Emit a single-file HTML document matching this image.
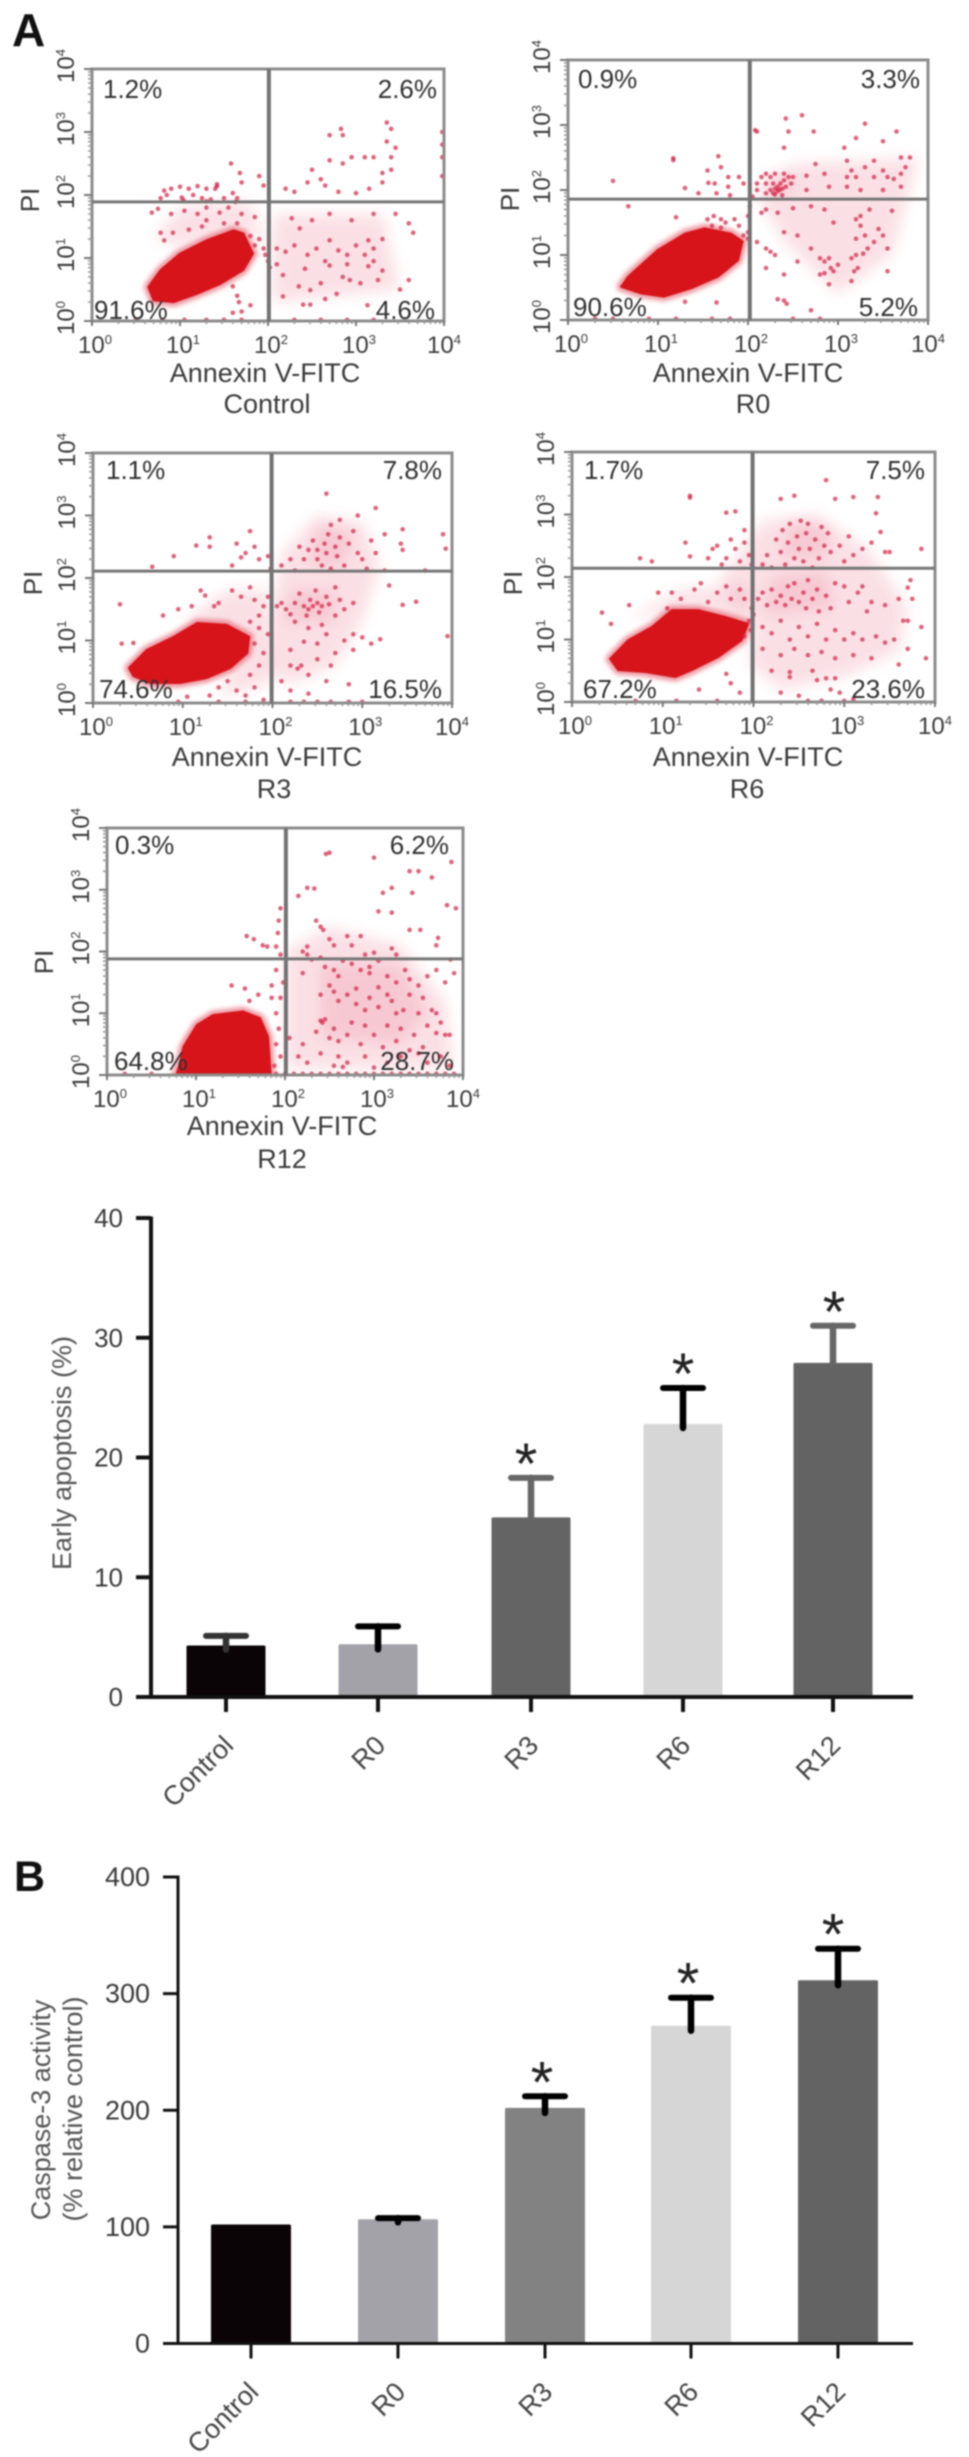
<!DOCTYPE html>
<html lang="en">
<head>
<meta charset="utf-8">
<title>Annexin V-FITC flow cytometry and caspase-3 activity</title>
<style>
html,body{margin:0;padding:0;background:#fff;}
body{width:969px;height:2457px;overflow:hidden;}
svg{display:block;font-family:"Liberation Sans",Arial,sans-serif;filter:blur(0.7px);}
</style>
</head>
<body>
<svg id="figure" xmlns="http://www.w3.org/2000/svg" width="969" height="2457" viewBox="0 0 969 2457">
<rect width="969" height="2457" fill="#fff"/>
<text x="12" y="46" font-size="46" font-weight="700" fill="#111">A</text>
<text x="14" y="1891" font-size="43" font-weight="700" fill="#111">B</text>
</svg>
<script>
// ---------- Chart values ----------
const apoptosisCategories = ['Control','R0','R3','R6','R12'];
const apoptosisValues = [4.3,4.4,15,22.8,27.9];
const apoptosisErrors = [0.8,1.5,3.3,3.0,3.1];
const apoptosisTicks = [0,10,20,30,40];
const caspaseCategories = ['Control','R0','R3','R6','R12'];
const caspaseValues = [102,106.5,202,272.5,311.5];
const caspaseErrors = [0,1,10,24,27];
const caspaseTicks = [0,100,200,300,400];
const significant = [false,false,true,true,true];

const flowNames = ['Control','R0','R3','R6','R12'];
const flowPercents = [
 ['1.2%','2.6%','91.6%','4.6%'],
 ['0.9%','3.3%','90.6%','5.2%'],
 ['1.1%','7.8%','74.6%','16.5%'],
 ['1.7%','7.5%','67.2%','23.6%'],
 ['0.3%','6.2%','64.8%','28.7%']
];
const flowGateX = [2.01,2.02,1.99,1.99,2.01];
const flowGateY = [1.89,1.86,2.11,2.14,1.88];
const logTicks = [0,1,2,3,4];

// Dense population outline, log10(FITC), log10(PI)
const denseControl = [[.64,.54],[.78,.81],[1,1.07],[1.3,1.28],[1.61,1.44],[1.72,1.39],[1.83,1.07],[1.72,.81],[1.46,.59],[1.19,.43],[.93,.3],[.7,.33]];
const denseR0 = [[.59,.51],[.67,.67],[1,1.08],[1.3,1.33],[1.52,1.41],[1.81,1.33],[1.94,1.21],[1.89,.92],[1.67,.67],[1.37,.49],[1.07,.36],[.81,.41]];
const denseR3 = [[.4,.56],[.6,.85],[.9,1.06],[1.16,1.28],[1.49,1.25],[1.74,1.06],[1.72,.8],[1.53,.56],[1.27,.4],[.97,.32],[.64,.32],[.45,.43]];
const denseR6 = [[.42,.69],[.62,.99],[.88,1.2],[1.1,1.47],[1.39,1.47],[1.69,1.36],[1.94,1.25],[1.87,.99],[1.61,.72],[1.32,.51],[1.14,.4],[.81,.48],[.51,.51]];
const denseR12 = [[.78,0],[.82,.19],[.86,.46],[1.01,.81],[1.19,.97],[1.53,1.03],[1.72,.92],[1.81,.62],[1.84,0]];

// Outlines of the diffuse event clouds, log10(FITC), log10(PI)
const cloudControl = [[[2.05,.3],[2.05,1.7],[3.3,1.7],[3.5,.5]],[[.7,1.3],[1,1.8],[1.8,1.9],[2,1.1],[1.7,1.5],[1,1.2]]];
const cloudR0 = [[[2.1,1.9],[2.5,2.4],[3.9,2.5],[3.6,1],[3,.4],[2.4,1.2]],[[2.15,1.95],[2.2,2.25],[2.5,2.25],[2.5,1.95]]];
const cloudR3 = [[[1.95,1.1],[2.1,2.4],[2.5,3],[3,2.9],[3.2,2.2],[3,1.3],[2.7,.6],[2.2,.3],[1.9,.5]],[[1,1.3],[1.5,1.8],[1.95,1.8],[1.95,.3],[1.4,.1],[1.7,1]],[[2.1,1.3],[2.2,1.8],[2.7,1.8],[2.7,1.3]],[[2.4,2.2],[2.5,2.85],[2.9,2.75],[2.8,2.2]]];
const cloudR6 = [[[1.6,1.9],[2.1,2.9],[2.7,3],[3.3,2.4],[3.7,1.5],[3.6,.8],[3,.4],[2.3,.2],[1.95,.6],[2,1.3]],[[.6,1.3],[1.2,1.8],[1.95,1.85],[1.95,1.1],[1.4,1.55]],[[2.1,1.4],[2.2,2],[2.8,2.1],[2.9,1.5]],[[2.3,2.3],[2.4,2.9],[2.85,2.8],[2.8,2.3]]];
const cloudR12 = [[[2,.1],[2,2],[2.5,2.4],[3.3,2.1],[3.8,1.2],[3.9,.1]],[[2.4,.6],[2.4,1.8],[3.3,1.8],[3.6,1],[3.3,.5]]];

// Individual events, log10(FITC), log10(PI)
const eventsControl = [[.82,2.07],[.9,2.1],[1,2.13],[1.1,2.1],[1.2,2.14],[1.3,2.1],[1.42,2.14],[1.42,2.17],[1.4,2.1],[.78,1.95],[.85,2],[1.04,1.92],[1.02,1.96],[1.15,2],[1.25,1.95],[1.3,1.9],[1.35,1.93],[1.5,1.95],[1.63,1.89],[1.65,1.95],[1.6,2.03],[1.7,2.2],[1.58,2.5],[1.68,2.35],[1.9,2.3],[1.95,2.15],[.68,1.72],[.75,1.78],[.9,1.7],[1.05,1.75],[1.2,1.7],[1.3,1.8],[1.45,1.72],[1.55,1.8],[1.7,1.7],[1.85,1.65],[.78,1.4],[.82,1.28],[.92,1.4],[1.1,1.45],[1.25,1.5],[1.3,1.6],[1.5,1.55],[1.65,1.55],[1.8,1.35],[1.9,1.3],[1.95,1.15],[1.97,1.05],[2,.95],[1.85,1.2],[1.6,.55],[1.65,.4],[1.67,.3],[1.7,.15],[1.6,.13],[1.8,.25],[2.27,1.63],[2.36,1.47],[2.7,1.28],[3.14,1.28],[3.14,.87],[2.93,.65],[2.48,.26],[2.4,.26],[2.17,.39],[2.48,.49],[2.78,.43],[2.17,.73],[2.42,.83],[2.7,.88],[2.1,1.15],[2.2,1.1],[2.3,1.2],[2.45,1.05],[2.55,1.15],[2.65,.95],[2.8,1.12],[2.9,1.05],[3,1.2],[3.1,1.05],[3.2,.95],[3.3,1.3],[3.3,.8],[3.05,.6],[2.85,.7],[2.6,.6],[2.35,.55],[2.5,1.6],[2.7,1.7],[2.95,1.6],[3.2,1.7],[3.45,1.7],[3.6,1.55],[3.65,1.4],[3.6,.65],[3.5,.5],[3.13,.25],[2.65,.35],[2.1,.9],[2.02,.85],[2.9,.9],[3.25,.65],[3.2,1.15],[2.2,2.1],[2.3,2.05],[2.45,2.2],[2.6,2.25],[2.65,2.15],[2.8,2.05],[3,2.03],[3.15,2.1],[3.3,2.2],[2.5,2.4],[2.7,2.55],[2.85,2.5],[2.95,2.6],[3.1,2.6],[3.2,2.6],[3.3,2.35],[3.4,2.6],[3.4,2.4],[3.45,2.75],[3.35,3.15],[3.4,3.05],[2.85,2.95],[2.83,3.05],[2.7,2.95],[3.35,2.85],[3.98,3],[3.98,2.8],[3.98,2.6],[3.98,2.3],[.5,.02],[.8,.02],[1.05,.02],[1.3,.02],[1.5,.02],[1.7,.02],[2.3,.02],[2.6,.02],[2.9,.02],[3.2,.02]];
const eventsR0 = [[1.17,2.49],[1.17,2.46],[.5,2.14],[.67,1.75],[1.67,2.52],[1.78,2.2],[1.78,2.05],[1.56,2.11],[1.63,2.1],[1.3,2.03],[1.45,1.95],[1.65,1.95],[1.8,1.92],[1.55,2.3],[1.7,2.35],[1.9,2.2],[1.95,2.1],[1.2,1.58],[1.55,1.55],[1.62,1.6],[1.7,1.55],[1.75,1.5],[1.85,1.55],[1.9,1.45],[1.6,1.45],[1.7,1.42],[1.95,1.3],[2,1.25],[2,1.35],[2,1.6],[2.02,1.75],[2.05,1.9],[2.1,2.1],[2.1,2],[2.15,2.2],[2.2,2.1],[2.2,1.95],[2.25,2],[2.28,2.1],[2.3,2.02],[2.33,2.05],[2.33,1.98],[2.36,2.1],[2.38,2.02],[2.4,2.15],[2.42,2.05],[2.45,2.2],[2.48,2.1],[2.5,2.2],[2.25,2.2],[2.3,2.25],[2.2,2.25],[2.4,2.25],[2.35,2],[2.3,1.93],[2.28,1.95],[2.38,1.92],[2.65,2.22],[2.85,2.25],[2.75,2.4],[3.1,2.2],[3.2,2.2],[3.3,2.35],[3.15,2.3],[3.4,2.2],[3.5,2.3],[3.55,2.2],[3.62,2.17],[3.7,2.25],[3.75,2.35],[3.7,2.5],[3.8,2.5],[3.7,2.05],[3.5,2],[3.25,2],[3.1,2.05],[2.9,2.05],[2.65,2],[2.4,2.65],[2.45,2.9],[2.73,2.9],[3.07,2.65],[3.2,2.8],[3.1,2.45],[3.3,3.02],[3.5,2.75],[3.65,2.9],[2.6,3.15],[2.42,3.1],[2.1,2.9],[2.08,2.92],[3.4,2.45],[2.15,1.65],[2.2,1.7],[2.33,1.65],[2.5,1.72],[2.7,1.75],[2.85,1.7],[2.95,1.5],[3.25,1.6],[3.35,1.7],[3.6,1.68],[3.2,1.55],[2.1,1.2],[2.2,1.1],[2.25,1.05],[2.3,1],[2.4,1.35],[2.55,1.3],[2.7,1.1],[2.8,.95],[2.85,.9],[2.9,.95],[2.92,.8],[2.95,.75],[2.85,.72],[2.8,.7],[2.9,.55],[3,.85],[3.15,.95],[3.2,1],[3.28,1.02],[3.33,1.1],[3.22,.8],[3.18,.75],[3.15,.6],[3.2,1.25],[3.3,1.3],[3.4,1.2],[3.45,1.4],[3.5,1.3],[3.25,1.45],[2.4,.7],[2.55,.9],[2.2,.8],[3.55,1.1],[3.55,.75],[2.43,.25],[2.4,.3],[2.33,.32],[2.7,.15],[1.65,.27],[1.3,.28],[.9,.02],[1.2,.02],[1.6,.02],[1.8,.02],[2.5,.02],[2.8,.02],[.3,.02],[.5,.02]];
const eventsR3 = [[.3,1.58],[.45,.96],[.32,.95],[.78,1.4],[1.15,2.52],[1.3,2.65],[.66,2.18],[1.3,2.5],[.9,2.35],[1.6,2.55],[1.75,2.75],[1.65,2.33],[1.55,2.2],[1.7,2.4],[1.8,2.5],[1.85,2.3],[1.95,2.35],[1.98,2.15],[1.2,1.8],[1.25,1.72],[1.35,1.55],[1.4,1.6],[1.55,1.8],[1.65,1.7],[1.75,1.85],[1.8,1.65],[1.85,1.4],[1.9,1.55],[1.95,1.7],[1.1,1.55],[.95,1.5],[1.75,1.3],[1.85,1.2],[1.95,1.1],[1.8,.95],[1.85,.6],[1.9,.8],[1.75,.45],[1.5,.35],[1.6,.2],[1.3,.12],[1.4,.25],[1.05,.1],[1.7,.12],[1.8,.25],[2.05,1.55],[2.1,1.6],[2.15,1.5],[2.2,1.42],[2.25,1.6],[2.3,1.75],[2.35,1.55],[2.38,1.4],[2.4,1.5],[2.42,1.65],[2.45,1.55],[2.48,1.8],[2.5,1.6],[2.52,1.45],[2.55,1.55],[2.6,1.7],[2.63,1.58],[2.7,1.85],[2.75,1.65],[2.25,1.3],[2.4,1.2],[2.55,1.25],[2.7,1.4],[2.8,1.5],[2.9,1.6],[2.1,2.2],[2.2,2.3],[2.25,2.12],[2.3,2.5],[2.35,2.3],[2.4,2.45],[2.45,2.6],[2.5,2.3],[2.5,2.45],[2.55,2.2],[2.58,2.55],[2.6,2.4],[2.62,2.7],[2.65,2.15],[2.65,2.85],[2.7,2.5],[2.72,2.35],[2.75,2.65],[2.75,2.93],[2.8,2.2],[2.85,2.55],[2.9,2.75],[2.95,2.4],[3,2.3],[3.05,2.15],[3.1,2.6],[3.25,2.7],[3.15,2.4],[3.43,2.55],[3.45,2.78],[3.45,2.45],[3.15,3.12],[2.6,3.35],[2.95,3],[3.25,2.12],[3.7,2.12],[3.9,2.7],[3.93,2.47],[3.6,1.62],[3.45,1.57],[3.3,1.88],[3.95,1.07],[2.9,1.1],[3,1.05],[3.1,.95],[3.2,1.02],[2.8,1],[2.6,1.1],[2.5,.95],[2.35,.98],[2.2,.85],[2.2,.6],[2.32,.6],[2.28,.55],[2.5,.7],[2.7,.8],[2.9,.85],[2.4,.45],[2.6,.35],[2.85,.3],[2.65,.6],[2.1,.35],[2.2,.2],[2.4,.15],[2.5,.02],[2.35,.02],[2.2,.02],[2.65,.02],[2.85,.02],[3,.02],[1.4,.02],[1.7,.02],[.95,.02],[1.9,.05]];
const eventsR6 = [[.33,1.43],[.43,1.25],[.63,1.55],[.75,2.3],[1.25,2.55],[1.3,3.3],[1.3,3.27],[1.3,2.33],[.88,2.25],[1.1,1.75],[.95,1.75],[1.05,1.5],[1.2,1.65],[1.35,1.8],[1.42,1.9],[1.5,1.6],[1.6,1.75],[1.7,1.85],[1.75,1.65],[1.85,1.8],[1.9,1.65],[1.5,2.3],[1.6,2.5],[1.7,2.3],[1.8,2.45],[1.75,2.6],[1.9,2.55],[1.95,2.35],[1.7,3.03],[1.8,3.05],[1.55,2.45],[1.65,2.2],[1.85,2.25],[1.98,2.2],[1.9,2.75],[1.98,1.5],[2,1.4],[1.95,1.3],[1.97,1.15],[1.9,1.05],[1.7,.45],[1.75,.3],[1.85,.15],[1.4,.2],[.7,.02],[1.15,.02],[1.6,.02],[2.05,1.65],[2.1,1.75],[2.15,1.55],[2.2,1.8],[2.25,1.6],[2.3,1.7],[2.35,1.55],[2.38,1.85],[2.42,1.65],[2.45,1.9],[2.5,1.6],[2.55,1.75],[2.58,1.5],[2.6,1.95],[2.65,1.65],[2.7,1.8],[2.72,1.45],[2.8,1.7],[2.85,1.5],[2.9,1.9],[3,1.85],[3.05,1.6],[3.15,1.75],[3.2,1.85],[3.25,1.45],[3.3,1.6],[3.45,1.55],[3.6,1.65],[3.65,1.3],[3.7,1.83],[3.73,1.95],[3.75,1.65],[2.1,2.2],[2.15,2.35],[2.2,2.15],[2.25,2.6],[2.3,2.4],[2.32,2.75],[2.35,2.2],[2.38,2.55],[2.4,2.85],[2.45,2.3],[2.48,2.65],[2.5,2.45],[2.52,2.9],[2.55,2.25],[2.58,2.7],[2.6,2.85],[2.62,2.45],[2.65,2.15],[2.68,2.6],[2.72,2.3],[2.75,2.8],[2.78,2.5],[2.82,2.7],[2.85,2.4],[2.95,2.5],[3,2.25],[3.05,2.65],[3.1,2.35],[3.2,2.45],[3.3,2.55],[3.45,2.4],[3.5,2.4],[3.85,2.45],[2.3,3.25],[2.45,3.3],[2.8,3.55],[2.9,3.25],[3.1,3.28],[3.37,3.28],[3.35,3.02],[3.4,2.72],[3.1,1.1],[3.2,1],[3.35,1.05],[3.45,.95],[3.55,1],[3.7,.85],[3.85,1.2],[3.7,1.3],[3.9,.7],[3.6,.6],[2.1,1.2],[2.2,1.1],[2.3,1.3],[2.4,1],[2.5,1.2],[2.6,1.05],[2.7,1.25],[2.8,1],[2.9,1.15],[3,1],[2.1,.85],[2.3,.75],[2.45,.85],[2.6,.75],[2.75,.8],[2.9,.7],[3.1,.75],[3.3,.7],[2.2,.5],[2.4,.4],[2.4,.48],[2.65,.5],[2.7,.35],[2.8,.38],[2.9,.38],[2.85,.2],[2.95,.15],[2.3,.15],[2.5,.1],[2.6,.02],[2.75,.02],[3,.02],[3.1,.05]];
const eventsR12 = [[1.57,2.25],[1.65,2.2],[1.75,2.1],[1.8,2.08],[1.9,2.08],[1.92,2.3],[1.93,2.5],[1.95,2.7],[1.95,1.95],[1.98,1.5],[1.7,1.3],[1.6,1.2],[1.4,1.45],[1.55,1.4],[1.85,1.45],[1.9,1.7],[1.85,1.25],[1.95,1.25],[1.9,1],[1.93,.75],[1.9,.5],[1.95,.3],[1.88,.15],[2.2,1.65],[2.15,2.9],[2.33,3.02],[2.25,3.03],[2.5,3.6],[2.46,3.58],[3,3.52],[3.1,2.95],[3.05,2.65],[3.2,2.63],[3.2,3.03],[3.4,3.3],[3.5,3.3],[3.43,2.95],[3.65,3.2],[3.87,3.45],[3.82,2.75],[3.92,2.7],[3.52,2.35],[3.7,2.1],[3.72,2.22],[3.86,1.87],[3.9,1.65],[2.35,2.5],[2.4,2.4],[2.43,2.35],[2.5,2.2],[2.55,2.1],[2.7,2.25],[2.75,2.1],[2.85,2.25],[2.9,1.95],[3,1.98],[3.2,2.05],[3.25,1.95],[3.4,2.35],[2.2,2],[2.25,2.08],[2.25,1.95],[2.3,1.87],[2.4,1.9],[2.45,1.75],[2.55,1.7],[2.6,1.6],[2.65,1.85],[2.75,1.8],[2.85,1.7],[2.95,1.65],[2.95,1.75],[3.05,1.85],[3.15,1.6],[3.25,1.5],[3.35,1.7],[3.4,1.55],[3.5,1.45],[3.6,1.6],[3.7,1.7],[3.8,1.5],[2.4,1.3],[2.5,1.45],[2.55,1.35],[2.6,1.2],[2.7,1.3],[2.8,1.15],[2.8,1.4],[2.9,1.05],[2.95,1.25],[3.05,1.1],[3.05,1.42],[3.15,1.3],[3.2,1.2],[3.25,1],[3.33,1.05],[3.4,1.3],[3.5,1],[3.55,1.25],[3.65,1.05],[3.7,1],[3.75,.85],[3.8,.65],[3.7,.68],[3.85,.65],[2.4,.88],[2.42,.85],[2.45,.9],[2.5,.6],[2.55,.75],[2.6,.55],[2.7,.65],[2.75,.85],[2.85,.5],[2.9,.8],[3,.65],[3.1,.45],[3.15,.8],[3.25,.55],[3.3,.75],[3.4,.4],[3.45,.65],[3.55,.45],[3.6,.8],[3.3,.3],[3.5,.35],[2.05,.6],[2.15,.3],[2.2,.5],[2.25,.2],[2.35,.7],[2.4,.35],[2.55,.15],[2.6,.3],[2.65,.13],[2.7,.2],[2.9,.3],[3,.12],[3.15,.2],[3.6,.2],[3.75,.3],[3.85,.15],[1.9,.02],[2.1,.02],[2.3,.02],[2.5,.02],[2.7,.02],[2.9,.02],[3.1,.02],[3.3,.02],[3.5,.02],[3.7,.02],[3.9,.02],[2,.02],[2.2,.02],[2.4,.02],[2.6,.02],[2.8,.02],[3,.02],[3.2,.02],[3.4,.02],[3.6,.02],[3.8,.02],[.2,.02],[.5,.02]];

// ---------- Layout and styles (not data) ----------
const NS = 'http://www.w3.org/2000/svg';
const root = document.getElementById('figure');
function mk(parent, tag, attrs, txt){
  const e = document.createElementNS(NS, tag);
  for (const k in attrs) e.setAttribute(k, attrs[k]);
  if (txt !== undefined) e.textContent = txt;
  parent.appendChild(e);
  return e;
}
const flowDense = [denseControl, denseR0, denseR3, denseR6, denseR12];
const flowClouds = [cloudControl, cloudR0, cloudR3, cloudR6, cloudR12];
const flowEvents = [eventsControl, eventsR0, eventsR3, eventsR6, eventsR12];
const flowBoxes = [
 {l:92,r:444,t:69,b:321,ax:265,ab:382,sx:267,sb:413,ux:103,urx:437,ty:98,lx:94,lrx:435,by:319,pi:39,piy:200},
 {l:568,r:928,t:60,b:320,ax:748,ab:382,sx:753,sb:413,ux:578,urx:920,ty:88,lx:573,lrx:918,by:316,pi:519,piy:199},
 {l:93,r:452,t:453,b:703,ax:267,ab:766,sx:274,sb:798,ux:106,urx:442,ty:479,lx:99,lrx:442,by:698,pi:42,piy:583},
 {l:572,r:935,t:452,b:702,ax:748,ab:766,sx:747,sb:798,ux:584,urx:925,ty:479,lx:583,lrx:925,by:698,pi:522,piy:583},
 {l:107,r:463,t:828,b:1075,ax:282,ab:1135,sx:282,sb:1168,ux:115,urx:449,ty:854,lx:114,lrx:454,by:1070,pi:53,piy:962}
];

function drawFlow(i){
  const B = flowBoxes[i];
  const g = mk(root, 'g', {});
  
  
  const X = v => B.l + (B.r - B.l) * v / 4;
  const Y = v => B.b - (B.b - B.t) * v / 4;
  const pts = arr => arr.map(p => X(p[0]) + ',' + Y(p[1])).join(' ');

  const clip = mk(g, 'clipPath', {id:'plot-clip-' + i});
  mk(clip, 'rect', {x:B.l, y:B.t, width:B.r-B.l, height:B.b-B.t});
  const under = mk(g, 'g', {'clip-path':'url(#plot-clip-' + i + ')'});
  
  

  flowClouds[i].forEach(c => {
    const cl = mk(under, 'polygon', {points:pts(c), fill:'#ec8095', opacity:.24, style:'filter:blur(7px)'});
    
    
  });

  const halo = mk(under, 'polygon', {points:pts(flowDense[i]), fill:'#e04c5c', stroke:'#e04c5c', 'stroke-width':9, 'stroke-linejoin':'round', opacity:.6, style:'filter:blur(2.5px)'});
  
  

  flowEvents[i].forEach(p => {
    const c = mk(g, 'circle', {cx:X(p[0]), cy:Y(p[1]), r:2.3, fill:'#d42646', opacity:.72});
    
    
  });

  const poly = mk(under, 'polygon', {points:pts(flowDense[i]), fill:'#d8141b', stroke:'#d8141b', 'stroke-width':2, 'stroke-linejoin':'round'});
  
  

  const frame = mk(g, 'rect', {x:B.l, y:B.t, width:B.r-B.l, height:B.b-B.t, fill:'none', stroke:'#8c8c8c', 'stroke-width':3});
  
  

  const gv = mk(g, 'line', {x1:X(flowGateX[i]), x2:X(flowGateX[i]), y1:B.t, y2:B.b, stroke:'#727272', 'stroke-width':4});
  
  
  const gh = mk(g, 'line', {x1:B.l, x2:B.r, y1:Y(flowGateY[i]), y2:Y(flowGateY[i]), stroke:'#767676', 'stroke-width':3});
  
  

  logTicks.forEach(t => {
    const tx = mk(g, 'line', {x1:X(t), x2:X(t), y1:B.b, y2:B.b+5, stroke:'#777', 'stroke-width':2});
    
    
    const ty = mk(g, 'line', {x1:B.l-8, x2:B.l, y1:Y(t), y2:Y(t), stroke:'#777', 'stroke-width':2});
    
    

    const lx = mk(g, 'text', {x:X(t)+(t === 4 ? 0 : 3), y:B.b+32, 'font-size':24, fill:'#3a3a3a', 'text-anchor':'middle'}, '10');
    
    
    mk(lx, 'tspan', {dy:-9, 'font-size':13}, String(t));

    const yy = Y(t) - 3, yx = B.l - 18;
    const ly = mk(g, 'text', {x:yx, y:yy, 'font-size':24, fill:'#3a3a3a', 'text-anchor':'middle', transform:'rotate(-90 ' + yx + ' ' + yy + ')'}, '10');
    
    
    mk(ly, 'tspan', {dy:-9, 'font-size':13}, String(t));

    if (t < 4) [2,3,4,5,6,7,8,9].forEach(m => {
      const v = t + Math.log10(m);
      const a = mk(g, 'line', {x1:B.l-4, x2:B.l, y1:Y(v), y2:Y(v), stroke:'#999', 'stroke-width':1.6});
      
      
      const b = mk(g, 'line', {x1:X(v), x2:X(v), y1:B.b, y2:B.b+3, stroke:'#999', 'stroke-width':1.6});
      
      
    });
  });

  const qAttrs = [
    {x:B.ux, y:B.ty, a:'start'}, {x:B.urx, y:B.ty, a:'end'},
    {x:B.lx, y:B.by, a:'start'}, {x:B.lrx, y:B.by, a:'end'}
  ];
  flowPercents[i].forEach((s, q) => {
    const t = mk(g, 'text', {x:qAttrs[q].x, y:qAttrs[q].y, 'font-size':26, fill:'#2f2f2f', 'text-anchor':qAttrs[q].a}, s);
    
    
  });

  const pi = mk(g, 'text', {x:B.pi, y:B.piy, 'font-size':26, fill:'#3a3a3a', 'text-anchor':'middle', transform:'rotate(-90 ' + B.pi + ' ' + B.piy + ')'}, 'PI');
  
  
  const ax = mk(g, 'text', {x:B.ax, y:B.ab, 'font-size':27, fill:'#3a3a3a', 'text-anchor':'middle'}, 'Annexin V-FITC');
  
  
  const sub = mk(g, 'text', {x:B.sx, y:B.sb, 'font-size':27, fill:'#3a3a3a', 'text-anchor':'middle'}, flowNames[i]);
  
  
}
flowNames.forEach((n, i) => drawFlow(i));

function drawBars(opt){
  const g = mk(root, 'g', {});
  
  
  const Y = v => opt.y0 + (opt.yTop - opt.y0) * v / opt.max;

  opt.cats.forEach((c, i) => {
    const cx = opt.centers[i];
    const top = Y(opt.vals[i]);
    const bar = mk(g, 'rect', {x:cx-opt.bw/2, y:top, width:opt.bw, height:opt.y0-top, fill:opt.colors[i], rx:1.5});
    
    
    if (opt.errs[i] > 0) {
      const capY = Y(opt.vals[i] + opt.errs[i]);
      const stem = mk(g, 'line', {x1:cx, x2:cx, y1:capY, y2:top+opt.stemIn[i], stroke:opt.errColors[i], 'stroke-width':opt.stemW, 'stroke-linecap':'round'});
      
      
      const cap = mk(g, 'line', {x1:cx-20, x2:cx+20, y1:capY, y2:capY, stroke:opt.errColors[i], 'stroke-width':6, 'stroke-linecap':'round'});
      
      
      if (significant[i]) {
        const star = mk(g, 'text', {x:cx+opt.starDx[i], y:capY-25+31, 'font-size':58, fill:'#222', 'text-anchor':'middle'}, '*');
        
        
      }
    }
    const tick = mk(g, 'line', {x1:cx, x2:cx, y1:opt.y0, y2:opt.y0+15, stroke:'#111', 'stroke-width':opt.axisW});
    
    
    const lx = cx + 9, ly = opt.y0 + 50;
    const lab = mk(g, 'text', {x:lx, y:ly, 'font-size':27, fill:'#444', 'text-anchor':'end', transform:'rotate(-45 ' + lx + ' ' + ly + ')'}, c);
    
    
  });

  const ya = mk(g, 'line', {x1:opt.ax, x2:opt.ax, y1:Y(opt.max)-1.5, y2:opt.y0, stroke:'#111', 'stroke-width':opt.axisW});
  
  
  const xa = mk(g, 'line', {x1:opt.ax-15, x2:913, y1:opt.y0, y2:opt.y0, stroke:'#111', 'stroke-width':opt.axisW});
  
  

  opt.ticks.forEach(t => {
    const tk = mk(g, 'line', {x1:opt.ax-15, x2:opt.ax, y1:Y(t), y2:Y(t), stroke:'#111', 'stroke-width':opt.axisW});
    
    
    const lb = mk(g, 'text', {x:opt.ax-28, y:Y(t)+9, 'font-size':opt.tickFont, fill:'#3a3a3a', 'text-anchor':'end'}, String(t));
    
    
  });

  opt.titles.forEach(tt => {
    const ti = mk(g, 'text', {x:tt.x, y:tt.y, 'font-size':27, fill:'#555', 'text-anchor':'middle', transform:'rotate(-90 ' + tt.x + ' ' + tt.y + ')'}, tt.s);
    
    
  });
}

drawBars({
  name:'early-apoptosis-chart', cats:apoptosisCategories, vals:apoptosisValues, errs:apoptosisErrors, ticks:apoptosisTicks,
  max:40, y0:1697, yTop:1218, ax:151, axisW:4, stemW:6.5, bw:79, tickFont:26,
  centers:[226,378,531,683,833],
  colors:['#0a0406','#a2a2a8','#646464','#d6d6d6','#636363'],
  errColors:['#333','#000','#666','#000','#666'],
  stemIn:[4,5,0,4,0], starDx:[0,0,-5,0,1],
  titles:[{x:71, y:1453, s:'Early apoptosis (%)'}]
});
drawBars({
  name:'caspase-3-activity-chart', cats:caspaseCategories, vals:caspaseValues, errs:caspaseErrors, ticks:caspaseTicks,
  max:400, y0:2343.5, yTop:1877, ax:178, axisW:3, stemW:6.5, bw:80, tickFont:27,
  centers:[251,398,545,691,838],
  colors:['#0a0406','#a2a2a8','#828282','#d6d6d6','#636363'],
  errColors:['#000','#000','#000','#000','#000'],
  stemIn:[0,3,5,5,5], starDx:[0,0,-3,-3,-5],
  titles:[{x:50, y:2110, s:'Caspase-3 activity'},{x:82, y:2109, s:'(% relative control)'}]
});
</script>
</body>
</html>
